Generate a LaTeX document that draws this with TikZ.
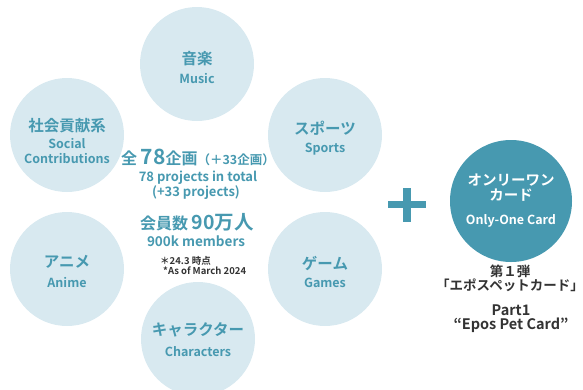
\documentclass[tikz,border=0pt]{standalone}
\usepackage{fontspec}
\setmainfont{Noto Sans CJK JP}[BoldFont={Noto Sans CJK JP Bold}]
\definecolor{lightc}{HTML}{D8E9F0}
\definecolor{teal}{HTML}{4799B0}
\definecolor{darkt}{HTML}{333333}
\begin{document}
\begin{tikzpicture}[x=1pt,y=-1pt,
  cat/.style={circle,fill=lightc,minimum size=114pt,inner sep=0pt},
  jt/.style={text=teal,font=\bfseries\fontsize{15.5}{16}\selectfont,inner sep=0pt},
  et/.style={text=teal,font=\bfseries\fontsize{12.5}{13}\selectfont,inner sep=0pt},
  ct/.style={text=teal,inner sep=0pt,font=\bfseries},
  bt/.style={text=darkt,inner sep=0pt,font=\bfseries\fontsize{13.5}{14}\selectfont}]
\useasboundingbox (0,0) rectangle (583,389);
% category circles
\node[cat] (music) at (197,64) {};
\node[cat] (social) at (67,135) {};
\node[cat] (sports) at (325,135) {};
\node[cat] (anime) at (67,269) {};
\node[cat] (games) at (325,269) {};
\node[cat] (chars) at (198,339) {};
% labels
\node[jt] (musicj) at (197,59) {音楽};
\node[et] (musice) at (197,79) {Music};
\node[jt] (socialj) at (67,126) {社会貢献系};
\node[et] (sociale1) at (67,144) {Social};
\node[et] (sociale2) at (67,159) {Contributions};
\node[jt] (sportsj) at (325,128) {スポーツ};
\node[et] (sportse) at (325,149) {Sports};
\node[jt] (animej) at (67,262) {アニメ};
\node[et] (animee) at (67,283) {Anime};
\node[jt] (gamesj) at (325,263) {ゲーム};
\node[et] (gamese) at (325,283) {Games};
\node[jt] (charsj) at (198,330) {キャラクター};
\node[et] (charse) at (198,352) {Characters};
% centre text
\node[ct] (l1) at (198,157) {{\fontsize{16}{16}\selectfont 全 }{\fontsize{21}{21}\selectfont 78}{\fontsize{16}{16}\selectfont 企画}{\fontsize{12.5}{13}\selectfont （＋33企画）}};
\node[ct,font=\bfseries\fontsize{13}{14}\selectfont] (l2) at (198,178) {78 projects in total};
\node[ct,font=\bfseries\fontsize{13}{14}\selectfont] (l3) at (196,193) {(+33 projects)};
\node[ct] (l4) at (197,222) {{\fontsize{16}{16}\selectfont 会員数 }{\fontsize{19.5}{20}\selectfont 90万人}};
\node[ct,font=\bfseries\fontsize{13.5}{14}\selectfont] (l5) at (196,241) {900k members};
\node[ct,text=darkt,anchor=west,font=\bfseries\fontsize{9.5}{10}\selectfont] (l6) at (160,261) {＊24.3 時点};
\node[ct,text=darkt,anchor=west,font=\bfseries\fontsize{9.5}{10}\selectfont] (l7) at (163,270.5) {*As of March 2024};
% plus
\fill[teal] (403,188) rectangle (411,222);
\fill[teal] (388,200.5) rectangle (425.5,207.5);
% card circle
\node[circle,fill=teal,minimum size=122pt,inner sep=0pt] (card) at (511,201) {};
\node[et,text=white,font=\bfseries\fontsize{14.5}{15}\selectfont] (cardj1) at (511,180) {オンリーワン};
\node[et,text=white,font=\bfseries\fontsize{14.5}{15}\selectfont] (cardj2) at (511,195) {カード};
\node[et,text=white,font=\bfseries\fontsize{12.5}{13}\selectfont] (carde) at (511,221) {Only-One Card};
% bottom text
\node[bt] (b1) at (510,271) {第１弾};
\node[bt] (b2) at (510,285) {「エポスペットカード」};
\node[bt,font=\bfseries\fontsize{14.5}{15}\selectfont] (b3) at (511,310) {Part1};
\node[bt,font=\bfseries\fontsize{14.5}{15}\selectfont] (b4) at (511,325) {“Epos Pet Card”};
\end{tikzpicture}
\end{document}
